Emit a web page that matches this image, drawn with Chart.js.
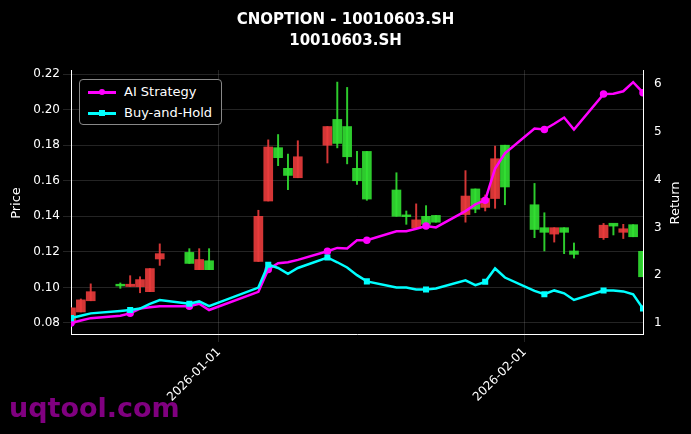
<!DOCTYPE html>
<html><head><meta charset="utf-8">
<script src="https://cdn.jsdelivr.net/npm/chart.js@4/dist/chart.umd.min.js"></script>
<style>
html,body{margin:0;padding:0;background:#000;}
#wrap{position:relative;width:691px;height:434px;}
#legend{position:absolute;left:79px;top:79px;width:141px;height:44px;border:1px solid #888;border-radius:4px;background:#000;font:13px "DejaVu Sans";color:#fff;}
.it{position:absolute;left:8px;height:16px;line-height:16px;}
.ln{position:absolute;left:0;top:7px;width:28px;height:3px;}
.dt{position:absolute;left:11px;top:5px;width:6px;height:6px;border-radius:3px;}
.tx{position:absolute;left:36px;top:0;white-space:nowrap;}
#wm{position:absolute;left:9px;top:392px;font:bold 27px "DejaVu Sans";color:#800080;}
</style></head><body>
<div id="wrap"><canvas id="c" width="691" height="434"></canvas>
<div id="legend">
<div class="it" style="top:4px"><div class="ln" style="background:#ff00ff"></div><div class="dt" style="background:#ff00ff"></div><span class="tx">AI Strategy</span></div>
<div class="it" style="top:25px"><div class="ln" style="background:#00ffff"></div><div class="dt" style="background:#00ffff;border-radius:0"></div><span class="tx">Buy-and-Hold</span></div>
</div>
<div id="wm">uqtool.com</div></div>
<script>
const dates=['2025-12-17','2025-12-18','2025-12-19','2025-12-22','2025-12-23','2025-12-24','2025-12-25','2025-12-26','2025-12-29','2025-12-30','2025-12-31',
'2026-01-05','2026-01-06','2026-01-07','2026-01-08','2026-01-09','2026-01-12','2026-01-13','2026-01-14','2026-01-15','2026-01-16',
'2026-01-19','2026-01-20','2026-01-21','2026-01-22','2026-01-23','2026-01-26','2026-01-27','2026-01-28','2026-01-29','2026-01-30',
'2026-02-02','2026-02-03','2026-02-04','2026-02-05','2026-02-06','2026-02-09','2026-02-10','2026-02-11','2026-02-12','2026-02-13'];
const open =[0.080,0.0862,0.0925,0.1010,0.1005,0.1004,0.0976,0.1160,0.1197,0.1100,0.1150,0.1146,0.1486,0.1786,0.1670,0.1617,0.1800,0.1945,0.1905,0.1670,0.1765,0.1548,0.1400,0.1335,0.1400,0.1405,0.1410,0.1554,0.1450,0.1500,0.1800,0.1465,0.1336,0.1300,0.1336,0.1205,0.1280,0.1353,0.1310,0.1353,0.1203];
const close=[0.0885,0.0930,0.0976,0.1008,0.1010,0.1044,0.1106,0.1190,0.1135,0.1157,0.1100,0.1400,0.1790,0.1730,0.1630,0.1735,0.1905,0.1810,0.1735,0.1600,0.1497,0.1400,0.1398,0.1380,0.1355,0.1367,0.1514,0.1440,0.1500,0.1724,0.1565,0.1326,0.1310,0.1336,0.1310,0.1186,0.1350,0.1345,0.1330,0.1285,0.1060];
const high =[0.0885,0.0935,0.1020,0.1025,0.1066,0.1060,0.1106,0.1245,0.1218,0.1218,0.1218,0.1434,0.1830,0.1860,0.1750,0.1825,0.1905,0.2155,0.2125,0.1765,0.1765,0.1645,0.1430,0.1470,0.1460,0.1405,0.1657,0.1554,0.1520,0.1795,0.1800,0.1585,0.1420,0.1336,0.1336,0.1250,0.1360,0.1353,0.1355,0.1353,0.1203];
const low  =[0.0800,0.0862,0.0925,0.0995,0.1005,0.0970,0.0976,0.1124,0.1135,0.1100,0.1100,0.1146,0.1486,0.1685,0.1550,0.1617,0.1700,0.1785,0.1695,0.1580,0.1490,0.1400,0.1355,0.1335,0.1335,0.1367,0.1367,0.1420,0.1430,0.1445,0.1465,0.1280,0.1205,0.1255,0.1190,0.1165,0.1270,0.1295,0.1275,0.1285,0.1060];
const aiReturn=[1.00,1.05,1.10,1.15,1.20,1.30,1.33,1.35,1.35,1.40,1.27,1.65,2.12,2.25,2.27,2.32,2.50,2.57,2.56,2.73,2.73,2.92,2.92,2.97,3.03,3.00,3.34,3.48,3.57,4.23,4.55,5.07,5.05,5.17,5.30,5.05,5.79,5.80,5.85,6.04,5.82];
const bhReturn=[1.10,1.15,1.20,1.25,1.27,1.30,1.40,1.48,1.40,1.45,1.35,1.74,2.22,2.15,2.03,2.15,2.37,2.27,2.16,2.00,1.87,1.74,1.74,1.70,1.70,1.72,1.89,1.79,1.86,2.14,1.95,1.67,1.60,1.68,1.62,1.48,1.68,1.68,1.66,1.60,1.30];
const priceTicks=[0.08,0.10,0.12,0.14,0.16,0.18,0.20,0.22];
const returnTicks=[1,2,3,4,5,6];
const xTickLabels=['2026-01-01','2026-02-01'];

const base=Date.UTC(2026,0,1);
const dayOf=s=>{const [y,m,d]=s.split('-').map(Number);return Math.round((Date.UTC(y,m-1,d)-base)/86400000);};
const xs=dates.map(dayOf);
const xTicks=xTickLabels.map(dayOf);
const RED='rgba(235,60,60,0.9)',GREEN='rgba(50,225,50,0.9)';
const col=open.map((o,i)=>close[i]>=o?RED:GREEN);
const mk=xs.map((_,i)=>i%4===0?2.5:0);
const grid={color:'rgba(150,150,150,0.35)',borderDash:[3,3],lineWidth:0.7,offset:false};
const axisTitles={id:'rt',afterDraw(c){const ctx=c.ctx;ctx.save();ctx.fillStyle='#fff';ctx.font='13px "DejaVu Sans"';ctx.textAlign='center';ctx.textBaseline='middle';
 ctx.translate(676,203);ctx.rotate(-Math.PI/2);ctx.fillText('Return',0,0);ctx.restore();
 ctx.save();ctx.fillStyle='#fff';ctx.font='13px "DejaVu Sans"';ctx.textAlign='center';ctx.textBaseline='middle';
 ctx.translate(17,203);ctx.rotate(-Math.PI/2);ctx.fillText('Price',0,0);ctx.restore();}};
new Chart(document.getElementById('c'),{
 plugins:[axisTitles],
 data:{datasets:[
  {type:'bar',data:xs.map((x,i)=>({x,y:[low[i],high[i]]})),backgroundColor:col,barThickness:1.3,yAxisID:'y',order:3,grouped:false},
  {type:'bar',data:xs.map((x,i)=>({x,y:[Math.min(open[i],close[i]),Math.max(open[i],close[i])+ (Math.abs(open[i]-close[i])<0.0008?0.0008:0)]})),backgroundColor:col,barThickness:9,yAxisID:'y',order:2,grouped:false},
  {type:'line',data:xs.map((x,i)=>({x,y:aiReturn[i]})),borderColor:'#ff00ff',backgroundColor:'#ff00ff',borderWidth:2.5,pointRadius:mk,pointStyle:'circle',yAxisID:'y1',order:1,tension:0},
  {type:'line',data:xs.map((x,i)=>({x,y:bhReturn[i]})),borderColor:'#00ffff',backgroundColor:'#00ffff',borderWidth:2.5,pointRadius:mk,pointStyle:'rect',yAxisID:'y1',order:0,tension:0}
 ]},
 options:{responsive:false,animation:false,
  layout:{padding:{top:0,right:0,left:0,bottom:0}},
  plugins:{legend:{display:false},tooltip:{enabled:false},
   title:{display:true,text:['CNOPTION - 10010603.SH','10010603.SH'],color:'#fff',font:{family:'DejaVu Sans',size:15,weight:'bold',lineHeight:1.4},padding:{top:10,bottom:18}}},
  scales:{
   x:{type:'linear',min:-15,max:43,offset:false,
    afterBuildTicks:s=>{s.ticks=xTicks.map(v=>({value:v}));},
    afterFit:s=>{s.height=100;},
    ticks:{color:'#fff',font:{family:'DejaVu Sans',size:12},maxRotation:45,minRotation:45,callback:(v)=>xTickLabels[xTicks.indexOf(v)]||''},
    grid:grid,border:{color:'#fff',width:1}},
   y:{position:'left',min:0.0738,max:0.2223,
    afterBuildTicks:s=>{s.ticks=priceTicks.map(v=>({value:v}));},
    afterFit:s=>{s.width=71;},
    ticks:{color:'#fff',font:{family:'DejaVu Sans',size:12},callback:v=>v.toFixed(2)},
    grid:grid,border:{color:'#fff',width:1}},
   y1:{position:'right',min:0.768,max:6.295,
    afterBuildTicks:s=>{s.ticks=returnTicks.map(v=>({value:v}));},
    afterFit:s=>{s.width=48;},
    ticks:{color:'#fff',font:{family:'DejaVu Sans',size:12}},
    grid:{display:false},border:{color:'#fff',width:1}}
  }}
});
</script></body></html>
